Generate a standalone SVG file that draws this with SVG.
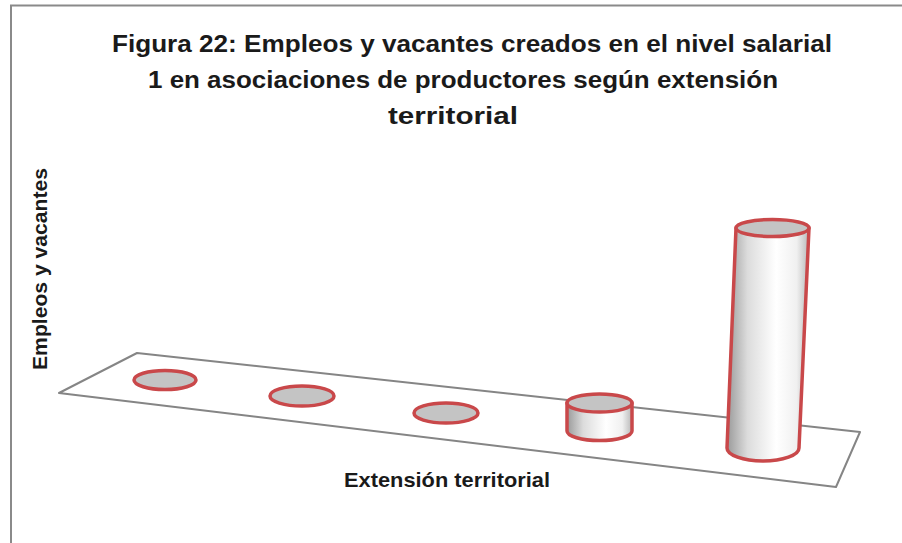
<svg xmlns="http://www.w3.org/2000/svg" width="902" height="543" viewBox="0 0 902 543">
<style>
.t{font-family:"Liberation Sans",Arial,sans-serif;font-weight:bold;fill:#1a1a1a}
.top{fill:#c4c4c4;stroke:#c9484a;stroke-width:3.5}
.side{fill:url(#cyl);stroke:#c9484a;stroke-width:3.5;stroke-linejoin:round}
.plat{fill:#fff;stroke:#858585;stroke-width:2;stroke-linejoin:round}
</style>
<defs>
<linearGradient id="cyl" x1="0" y1="0" x2="1" y2="0">
<stop offset="0" stop-color="#9a9a9a"/>
<stop offset="0.25" stop-color="#dcdcdc"/>
<stop offset="0.6" stop-color="#ffffff"/>
<stop offset="0.85" stop-color="#f0f0f0"/>
<stop offset="1" stop-color="#b8b8b8"/>
</linearGradient>
</defs>
<rect width="902" height="543" fill="#fff"/>
<g id="frame"><path d="M11,543 V5.5 H902" fill="none" stroke="#8a8a8a" stroke-width="2"/></g>
<g id="title">
<text class="t" x="472" y="52" font-size="23" text-anchor="middle" textLength="720" lengthAdjust="spacingAndGlyphs">Figura 22: Empleos y vacantes creados en el nivel salarial</text>
<text class="t" x="463" y="88" font-size="23" text-anchor="middle" textLength="630" lengthAdjust="spacingAndGlyphs">1 en asociaciones de productores según extensión</text>
<text class="t" x="453" y="124" font-size="23" text-anchor="middle" textLength="130" lengthAdjust="spacingAndGlyphs">territorial</text>
</g>
<g id="platform"><polygon class="plat" points="137,353 860,432 836,487 59,393"/></g>
<g id="bar1"><ellipse class="top" cx="165" cy="380" rx="31" ry="9.5"/></g>
<g id="bar2"><ellipse class="top" cx="302" cy="396" rx="32" ry="10"/></g>
<g id="bar3"><ellipse class="top" cx="446" cy="413" rx="32" ry="10"/></g>
<g id="bar4">
<path class="side" d="M567,403 V431 A32.5,9.5 0 0 0 632,431 V403 Z"/>
<ellipse class="top" cx="599.5" cy="403" rx="32.5" ry="9"/>
</g>
<g id="bar5">
<path class="side" d="M736,228 L727,448 A36,13 0 0 0 799,448 L809,228 Z"/>
<ellipse class="top" cx="772.5" cy="228" rx="36.5" ry="8.5"/>
</g>
<g id="axis-labels">
<text class="t" x="447" y="487" font-size="21" text-anchor="middle" textLength="206" lengthAdjust="spacingAndGlyphs">Extensión territorial</text>
<text class="t" transform="translate(47,269) rotate(-90)" x="0" y="0" font-size="21" text-anchor="middle" textLength="202" lengthAdjust="spacingAndGlyphs">Empleos y vacantes</text>
</g>
</svg>
